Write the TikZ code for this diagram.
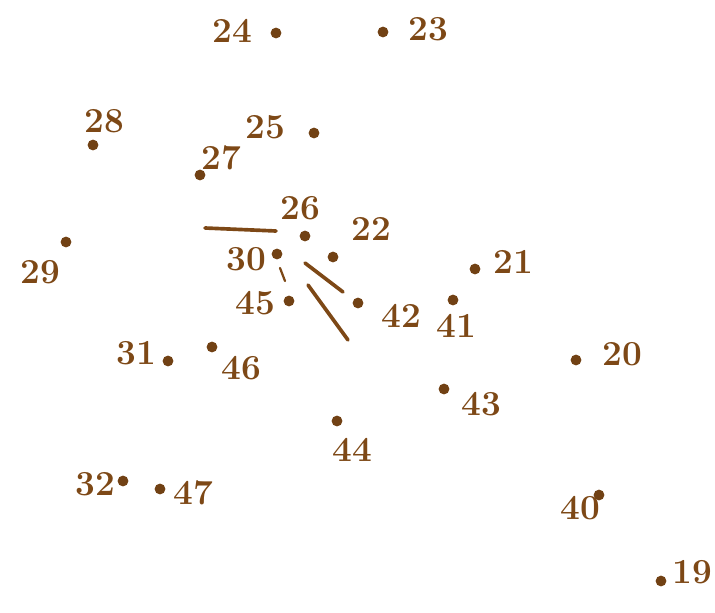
\documentclass[tikz,border=0pt]{standalone}
\usepackage{tikz}
\usetikzlibrary{positioning}
\definecolor{ink}{RGB}{125,72,22}

\begin{document}
\begin{tikzpicture}[x=0.025cm, y=-0.025cm,
    dot/.style={circle, fill=ink!90!black, inner sep=0pt, minimum size=0.27cm},
    num/.style={text=ink, font=\fontsize{25}{28}\selectfont\bfseries, inner sep=1pt},
    stroke/.style={draw=ink, line width=2.6pt, line cap=round}]
    \useasboundingbox (0,0) rectangle (715,612);
    % dots
    \node [dot] (d19) at (661,581) {};
    \node [dot] (d20) at (576,360) {};
    \node [dot] (d21) at (475,269) {};
    \node [dot] (d22) at (333,257) {};
    \node [dot] (d23) at (383,32) {};
    \node [dot] (d24) at (276,33) {};
    \node [dot] (d25) at (314,133) {};
    \node [dot] (d26) at (305,236) {};
    \node [dot] (d27) at (200,175) {};
    \node [dot] (d28) at (93,145) {};
    \node [dot] (d29) at (66,242) {};
    \node [dot] (d30) at (277,254) {};
    \node [dot] (d31) at (168,361) {};
    \node [dot] (d32) at (123,481) {};
    \node [dot] (d40) at (599,495) {};
    \node [dot] (d41) at (453,300) {};
    \node [dot] (d42) at (358,303) {};
    \node [dot] (d43) at (444,389) {};
    \node [dot] (d44) at (337,421) {};
    \node [dot] (d45) at (289,301) {};
    \node [dot] (d46) at (212,347) {};
    \node [dot] (d47) at (160,489) {};
    % numbers
    \node [num] (n19) at (692,572) {19};
    \node [num] (n20) at (622,354) {20};
    \node [num] (n21) at (513,262) {21};
    \node [num] (n22) at (371,229) {22};
    \node [num] (n23) at (428,29) {23};
    \node [num] (n24) at (232,31) {24};
    \node [num] (n25) at (265,127) {25};
    \node [num] (n26) at (300,208) {26};
    \node [num] (n27) at (221,158) {27};
    \node [num] (n28) at (104,121) {28};
    \node [num] (n29) at (40,272) {29};
    \node [num] (n30) at (246,259) {30};
    \node [num] (n31) at (136,353) {31};
    \node [num] (n32) at (95,484) {32};
    \node [num] (n40) at (580,508) {40};
    \node [num] (n41) at (456,326) {41};
    \node [num] (n42) at (401,316) {42};
    \node [num] (n43) at (481,404) {43};
    \node [num] (n44) at (352,450) {44};
    \node [num] (n45) at (255,303) {45};
    \node [num] (n46) at (241,368) {46};
    \node [num] (n47) at (193,493) {47};
    % pencil strokes
    \draw [stroke] (205,228) -- (276,231);
    \draw [stroke] (305,263) -- (343,292);
    \draw [stroke] (308,285) -- (348,340);
    \draw [stroke, line width=1.6pt] (280,268) -- (285,281);
\end{tikzpicture}
\end{document}
